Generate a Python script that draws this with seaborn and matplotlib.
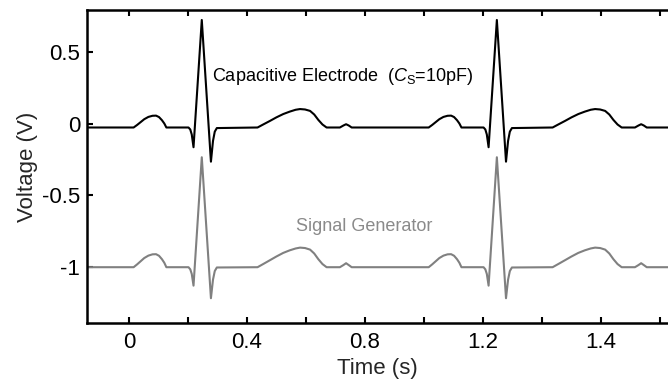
import matplotlib
matplotlib.use("Agg")
import matplotlib.pyplot as plt
import seaborn as sns
import pandas as pd

# ---- data ----
time_s = [-0.142,
          # beat 1
          0.016, 0.028, 0.040, 0.052, 0.066, 0.080, 0.092, 0.102, 0.112, 0.120, 0.127,
          0.202, 0.208, 0.213, 0.219, 0.247, 0.278, 0.285, 0.291, 0.298,
          0.436, 0.455, 0.478, 0.500, 0.523, 0.545, 0.565, 0.580, 0.597, 0.614, 0.628, 0.642, 0.656, 0.670,
          0.715, 0.727, 0.736, 0.745, 0.755,
          # beat 2
          1.016, 1.028, 1.040, 1.052, 1.066, 1.080, 1.092, 1.102, 1.112, 1.120, 1.127,
          1.202, 1.208, 1.213, 1.219, 1.247, 1.278, 1.285, 1.291, 1.298,
          1.436, 1.455, 1.478, 1.500, 1.523, 1.545, 1.565, 1.580, 1.597, 1.614, 1.628, 1.642, 1.656, 1.670,
          1.715, 1.727, 1.736, 1.745, 1.755,
          1.827]

electrode_v = [-0.026,
               -0.026, -0.008, 0.012, 0.032, 0.048, 0.056, 0.057, 0.047, 0.025, 0.002, -0.026,
               -0.026, -0.040, -0.075, -0.164, 0.726, -0.265, -0.120, -0.055, -0.030,
               -0.026, -0.005, 0.020, 0.045, 0.068, 0.085, 0.098, 0.103, 0.100, 0.090, 0.065, 0.027, -0.005, -0.026,
               -0.026, -0.012, -0.003, -0.012, -0.026,
               -0.026, -0.008, 0.012, 0.032, 0.048, 0.056, 0.057, 0.047, 0.025, 0.002, -0.026,
               -0.026, -0.040, -0.075, -0.164, 0.726, -0.265, -0.120, -0.055, -0.030,
               -0.026, -0.005, 0.020, 0.045, 0.068, 0.085, 0.098, 0.103, 0.100, 0.090, 0.065, 0.027, -0.005, -0.026,
               -0.026, -0.012, -0.003, -0.012, -0.026,
               -0.026]

generator_v = [-1.003,
               -1.003, -0.983, -0.961, -0.939, -0.922, -0.913, -0.912, -0.923, -0.947, -0.972, -1.003,
               -1.003, -1.018, -1.050, -1.132, -0.234, -1.220, -1.090, -1.030, -1.005,
               -1.003, -0.981, -0.954, -0.928, -0.903, -0.885, -0.872, -0.866, -0.869, -0.880, -0.907, -0.947, -0.981, -1.003,
               -1.003, -0.988, -0.975, -0.988, -1.003,
               -1.003, -0.983, -0.961, -0.939, -0.922, -0.913, -0.912, -0.923, -0.947, -0.972, -1.003,
               -1.003, -1.018, -1.050, -1.132, -0.234, -1.220, -1.090, -1.030, -1.005,
               -1.003, -0.981, -0.954, -0.928, -0.903, -0.885, -0.872, -0.866, -0.869, -0.880, -0.907, -0.947, -0.981, -1.003,
               -1.003, -0.988, -0.975, -0.988, -1.003,
               -1.003]

x_ticks = [0.0, 0.2, 0.4, 0.6, 0.8, 1.0, 1.2, 1.4, 1.6, 1.8]
x_tick_labels = ["0", "", "0.4", "", "0.8", "", "1.2", "", "1.4", ""]
y_ticks = [0.5, 0.0, -0.5, -1.0]
y_tick_labels = ["0.5", "0", "-0.5", "-1"]

# ---- style ----
sns.set_style("ticks")
plt.rcParams["font.family"] = ["Liberation Sans", "DejaVu Sans"]
plt.rcParams["mathtext.fontset"] = "custom"
plt.rcParams["mathtext.rm"] = "Liberation Sans"
plt.rcParams["mathtext.it"] = "Liberation Sans:italic"

fig = plt.figure(figsize=(6.68, 3.83), dpi=100)
ax = fig.add_axes([87 / 668, 1 - 323.4 / 383, 581 / 668, (323.4 - 10.1) / 383])

df = pd.DataFrame({"t": time_s, "e": electrode_v, "g": generator_v})
sns.lineplot(data=df, x="t", y="g", ax=ax, color="#808080", linewidth=1.5,
             sort=False, estimator=None)
sns.lineplot(data=df, x="t", y="e", ax=ax, color="black", linewidth=1.5,
             sort=False, estimator=None)

ax.set_xlim(-0.142, 1.827)
ax.set_ylim(-1.396, 0.795)

ax.set_xticks(x_ticks)
ax.set_xticklabels(x_tick_labels)
ax.set_yticks(y_ticks)
ax.set_yticklabels(y_tick_labels)

ax.tick_params(axis="both", direction="in", length=4, width=1.5,
               labelsize=16, colors="black")
ax.tick_params(axis="x", top=True, pad=6)
ax.tick_params(axis="y", pad=5)

for side in ["left", "top", "bottom"]:
    ax.spines[side].set_linewidth(1.8)
    ax.spines[side].set_color("black")
ax.spines["right"].set_visible(False)

ax.set_xlabel("Time (s)", fontsize=16, labelpad=4)
ax.set_ylabel("Voltage (V)", fontsize=16, labelpad=3)

ax.text(0.280, 0.329, r"Capacitive Electrode  ($\mathit{C}_{\mathrm{S}}$=10pF)",
        fontsize=13, color="black", va="center", ha="left")
ax.text(0.566, -0.720, "Signal Generator", fontsize=13, color="#8a8a8a",
        va="center", ha="left")

fig.savefig("out.png", dpi=100)
